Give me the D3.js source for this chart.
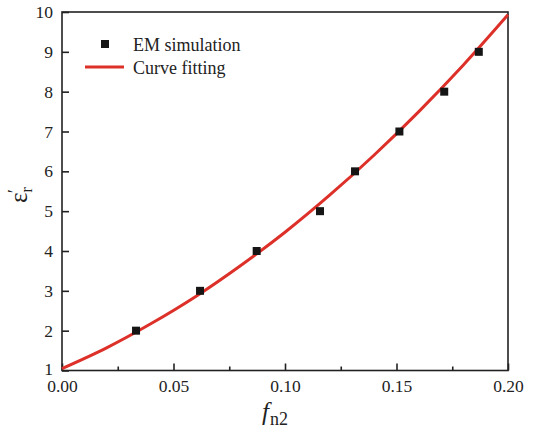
<!DOCTYPE html>
<html>
<head>
<meta charset="utf-8">
<script src="https://cdn.jsdelivr.net/npm/d3@7"></script>
<style>
  html, body { margin: 0; padding: 0; background: #fff; }
  svg text { font-family: "Liberation Serif", "Times New Roman", Times, serif; }
</style>
</head>
<body>
<svg id="chart" width="533" height="436"></svg>
<script>
// EM simulation results: volume fraction f_n2 vs. relative permittivity
const simFraction = [0.0332, 0.0619, 0.0873, 0.1157, 0.1314, 0.1513, 0.1714, 0.1869];
const simPermittivity = [2, 3, 4, 5, 6, 7, 8, 9];

// Fitted curve, sampled along f_n2
const fitFraction = [0, 0.02, 0.04, 0.06, 0.08, 0.10, 0.12, 0.14, 0.16, 0.18, 0.20];
const fitPermittivity = [1.05, 1.57, 2.18, 2.86, 3.63, 4.47, 5.40, 6.41, 7.50, 8.67, 9.93];

const xTicks = [0, 0.05, 0.10, 0.15, 0.20];
const xMinorTicks = [0.025, 0.075, 0.125, 0.175];
const yTicks = [1, 2, 3, 4, 5, 6, 7, 8, 9, 10];

const legendLabels = ["EM simulation", "Curve fitting"];

const margin = { left: 62, right: 25, top: 12, bottom: 65.5 };
const width = 533, height = 436;
const svg = d3.select("#chart");

const x = d3.scaleLinear().domain([0, 0.2]).range([margin.left, width - margin.right]);
const y = d3.scaleLinear().domain([1, 10]).range([height - margin.bottom, margin.top]);

const axisColor = "#222";
const red = "#dc3029";
const serif = '"Liberation Serif", "Times New Roman", Times, serif';

// Frame
svg.append("rect")
  .attr("x", x(0)).attr("y", y(10))
  .attr("width", x(0.2) - x(0)).attr("height", y(1) - y(10))
  .attr("fill", "none").attr("stroke", axisColor).attr("stroke-width", 1.6);

// Bottom axis: inward ticks
const xAxis = svg.append("g").attr("transform", `translate(0,${y(1)})`)
  .call(d3.axisBottom(x).tickValues(xTicks).tickFormat(d3.format(".2f")).tickSizeInner(-7).tickSizeOuter(0).tickPadding(9));
xAxis.attr("font-family", serif);
xAxis.select(".domain").remove();
xAxis.selectAll(".tick line").attr("stroke", axisColor).attr("stroke-width", 1.6);
xAxis.selectAll("text").attr("font-size", 17.5).attr("fill", "#222");

const xMinor = svg.append("g").attr("transform", `translate(0,${y(1)})`)
  .call(d3.axisBottom(x).tickValues(xMinorTicks).tickFormat("").tickSizeInner(-4).tickSizeOuter(0));
xMinor.select(".domain").remove();
xMinor.selectAll(".tick line").attr("stroke", axisColor).attr("stroke-width", 1.6);

// Left axis: inward ticks
const yAxis = svg.append("g").attr("transform", `translate(${x(0)},0)`)
  .call(d3.axisLeft(y).tickValues(yTicks).tickFormat(d3.format("d")).tickSizeInner(-7).tickSizeOuter(0).tickPadding(9));
yAxis.attr("font-family", serif);
yAxis.select(".domain").remove();
yAxis.selectAll(".tick line").attr("stroke", axisColor).attr("stroke-width", 1.6);
yAxis.selectAll("text").attr("font-size", 17.5).attr("fill", "#222");
// lowest label sits just above the corner, clear of "0.00"
yAxis.selectAll(".tick").filter(d => d === 1).select("text").attr("dy", "0.2em");

// Fitted curve
const line = d3.line()
  .x((d, i) => x(fitFraction[i]))
  .y(d => y(d))
  .curve(d3.curveMonotoneX);
svg.append("path")
  .datum(fitPermittivity)
  .attr("d", line)
  .attr("fill", "none").attr("stroke", red).attr("stroke-width", 3);

// Simulation markers
const sq = 8;
svg.append("g").selectAll("rect")
  .data(simPermittivity)
  .join("rect")
  .attr("x", (d, i) => x(simFraction[i]) - sq / 2)
  .attr("y", d => y(d) - sq / 2)
  .attr("width", sq).attr("height", sq)
  .attr("fill", "#151515");

// Legend
const lg = svg.append("g").attr("font-family", serif);
lg.append("rect").attr("x", 101).attr("y", 40).attr("width", 8).attr("height", 8).attr("fill", "#151515");
lg.append("line").attr("x1", 85).attr("x2", 124).attr("y1", 67).attr("y2", 67)
  .attr("stroke", red).attr("stroke-width", 3);
lg.selectAll("text").data(legendLabels).join("text")
  .attr("x", 133).attr("y", (d, i) => 51 + i * 23)
  .attr("font-size", 18).attr("fill", "#222")
  .text(d => d);

// X axis title: f_n2
const xt = svg.append("text")
  .attr("x", 262).attr("y", 420)
  .attr("fill", "#222").attr("font-family", serif);
xt.append("tspan").attr("font-style", "italic").attr("font-size", 25).text("f");
xt.append("tspan").attr("font-size", 18).attr("dy", 5).attr("dx", 1).text("n2");

// Y axis title: ε'_r
const yt = svg.append("text")
  .attr("transform", "translate(27,203) rotate(-90)")
  .attr("fill", "#222").attr("font-family", serif);
yt.append("tspan").attr("font-size", 25).text("ε");
yt.append("tspan").attr("font-size", 16).attr("dy", 5).text("r");
yt.append("tspan").attr("font-size", 19).attr("dy", -11).attr("dx", -6).text("′");
</script>
</body>
</html>
